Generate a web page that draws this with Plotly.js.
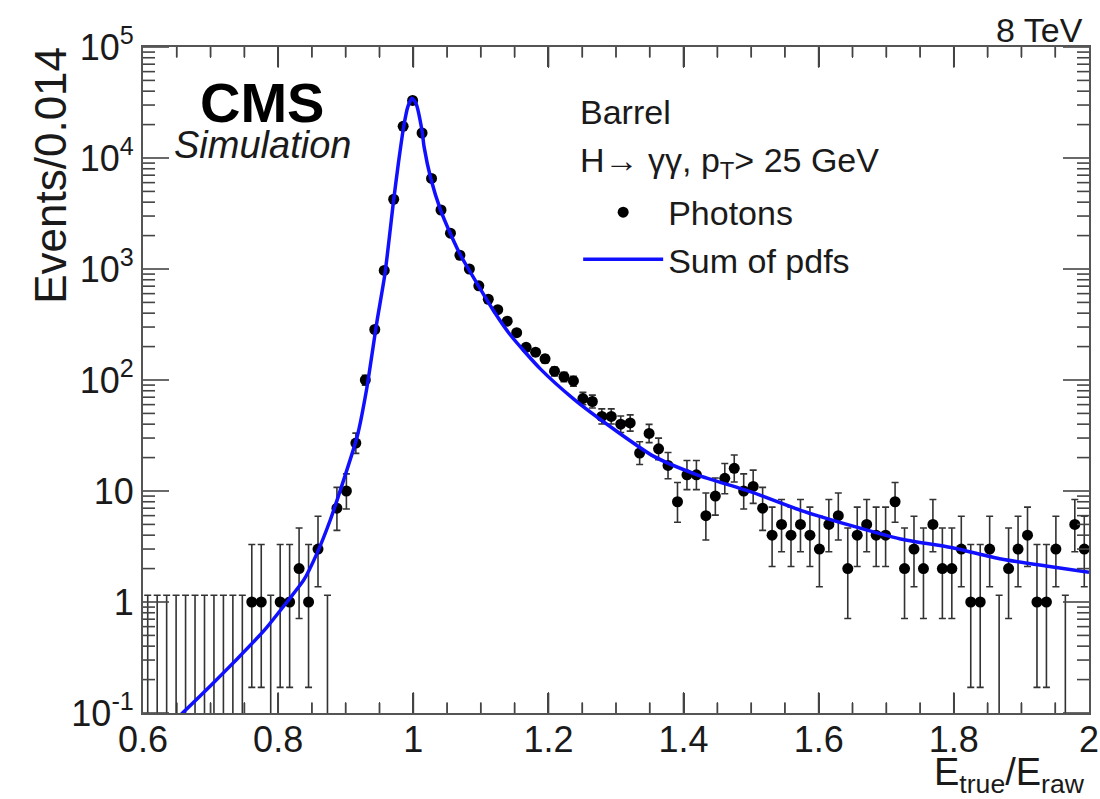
<!DOCTYPE html>
<html>
<head>
<meta charset="utf-8">
<script src="https://cdn.plot.ly/plotly-3.0.1.min.js"></script>
<style>html,body{margin:0;padding:0;background:#fff;}#chart{width:1100px;height:799px;}</style>
</head>
<body>
<div id="chart"></div>
<script>
// Bin centres of E_true/E_raw (bin width 0.014)
const binCenters = [0.607,0.621,0.635,0.649,0.663,0.677,0.691,0.705,0.719,0.733,
  0.747,0.761,0.775,0.789,0.803,0.817,0.831,0.845,0.859,0.873,
  0.887,0.901,0.915,0.929,0.943,0.957,0.971,0.985,0.999,1.013,
  1.027,1.041,1.055,1.069,1.083,1.097,1.111,1.125,1.139,1.153,
  1.167,1.181,1.195,1.209,1.223,1.237,1.251,1.265,1.279,1.293,
  1.307,1.321,1.335,1.349,1.363,1.377,1.391,1.405,1.419,1.433,
  1.447,1.461,1.475,1.489,1.503,1.517,1.531,1.545,1.559,1.573,
  1.587,1.601,1.615,1.629,1.643,1.657,1.671,1.685,1.699,1.713,
  1.727,1.741,1.755,1.769,1.783,1.797,1.811,1.825,1.839,1.853,
  1.867,1.881,1.895,1.909,1.923,1.937,1.951,1.965,1.979,1.993];

// Photon counts per bin
const photonCounts = [0,0,0,0,0,0,0,0,0,0,
  0,1,1,0,1,1,2,1,3,0,
  7,10,27,100,285,970,4250,19300,33000,16800,
  6550,3400,2100,1330,1000,705,534,430,339,267,
  197,178,155,120,107,98,68,64,47,47,
  40,41,22,33,24,17,8,14,14,6,
  9,13,16,10,11,7,4,5,4,5,
  4,3,5,6,2,4,5,4,4,8,
  2,3,2,5,2,2,3,1,1,3,
  0,2,3,4,1,1,3,0,5,3];

// Upper / lower error on each count
const errUp = [1.15,1.15,1.15,1.15,1.15,1.15,1.15,1.15,1.15,1.15,
  1.15,2.30,2.30,1.15,2.30,2.30,2.64,2.30,2.92,1.15,
  3.77,4.26,6.25,10.0,16.9,31.1,65.2,139,182,130,
  81,58.3,45.8,36.5,31.6,26.6,23.1,20.7,18.4,16.3,
  14.0,13.3,12.4,11.0,10.3,9.9,9.3,9.1,7.9,7.9,
  7.38,7.46,5.76,6.80,5.96,5.20,3.94,4.83,4.83,3.58,
  4.11,4.70,5.08,4.26,4.42,3.77,3.16,3.38,3.16,3.38,
  3.16,2.92,3.38,3.58,2.64,3.16,3.38,3.16,3.16,3.94,
  2.64,2.92,2.64,3.38,2.64,2.64,2.92,2.30,2.30,2.92,
  1.15,2.64,2.92,3.16,2.30,2.30,2.92,1.15,3.38,2.92];
const errDown = [0,0,0,0,0,0,0,0,0,0,
  0,0.83,0.83,0,0.83,0.83,1.29,0.83,1.63,0,
  2.58,3.11,5.16,10.0,16.9,31.1,65.2,139,182,130,
  81,58.3,45.8,36.5,31.6,26.6,23.1,20.7,18.4,16.3,
  14.0,13.3,12.4,11.0,10.3,9.9,8.2,8.0,6.8,6.8,
  6.30,6.38,4.66,5.72,4.86,4.09,2.77,3.70,3.70,2.38,
  2.94,3.56,3.96,3.11,3.27,2.58,1.91,2.16,1.91,2.16,
  1.91,1.63,2.16,2.38,1.29,1.91,2.16,1.91,1.91,2.77,
  1.29,1.63,1.29,2.16,1.29,1.29,1.63,0.83,0.83,1.63,
  0,1.29,1.63,1.91,0.83,0.83,1.63,0,2.16,1.63];

// Sum of pdfs (fit curve)
const pdfX = [0.650,0.660,0.700,0.740,0.780,0.813,0.838,0.857,0.877,0.897,0.917,0.931,0.946,0.958,0.971,0.978,0.986,0.992,0.998,1.004,1.013,1.016,1.026,1.040,1.055,1.070,1.098,1.120,1.144,1.188,1.238,1.297,1.356,1.420,1.500,1.573,1.647,1.721,1.796,1.870,1.944,2.000];
const pdfY = [0.089,0.102,0.176,0.31,0.56,1.0,1.58,2.7,5.45,12.6,31,83,330,900,4200,9000,19500,29000,34500,31000,17500,12600,6500,3450,2080,1330,680,410,253,126,67,36,20.5,14,9.8,6.7,4.9,3.7,3.1,2.44,2.08,1.85];

const yTickVals = [0.1,1,10,100,1000,10000,100000];
const yTickText = ['10<sup>-1</sup>','1','10','10<sup>2</sup>','10<sup>3</sup>','10<sup>4</sup>','10<sup>5</sup>'];

// split into filled and empty bins
const fx=[],fy=[],fu=[],fd=[],zx=[],zy=[],zd=[];
photonCounts.forEach((c,i)=>{
  if(c>0){fx.push(binCenters[i]);fy.push(c);fu.push(errUp[i]);fd.push(errDown[i]);}
  else{zx.push(binCenters[i]);zy.push(c+errUp[i]);zd.push((c+errUp[i])*0.9999);}
});

// ROOT-style inside tick marks (axis decoration)
const X0=0.6, X1=2.0, YLO=-1, YHI=5;
const PXX=946/(X1-X0), PXY=666/(YHI-YLO), TC='#444';
const shapes=[];
function seg(x0,x1,y0,y1){
  shapes.push({type:'line',xref:'x',yref:'y',x0:x0,x1:x1,y0:y0,y1:y1,layer:'above',line:{color:TC,width:1.6}});
}
for(let d=YLO; d<=YHI; d++){
  for(let k=1;k<10;k++){
    if(d===YHI && k>1) break;
    const val=k*Math.pow(10,d);
    const len=(k===1?26:12)/PXX;
    seg(X0,X0+len,val,val);
    seg(X1,X1-len,val,val);
  }
}
// x-axis tick marks as error bars of helper traces
const tickX=[], botY=[], botM=[], topY=[], topP=[];
for(let k=1;k<28;k++){
  const v=X0+0.05*k;
  const lenDec=(k%4===0?20:10)/PXY;
  const yb=Math.pow(10,YLO+lenDec), yt=Math.pow(10,YHI-lenDec);
  tickX.push(v); botY.push(yb); botM.push(yb*0.9); topY.push(yt); topP.push(yt*2);
}

const FONT='Liberation Sans, Arial, sans-serif';
const TXT='#1a1a1a';

const traces = [
  {x:tickX,y:botY,type:'scatter',mode:'markers',showlegend:false,hoverinfo:'skip',
   marker:{size:2,color:'rgba(255,255,255,0)'},
   error_y:{type:'data',symmetric:false,array:tickX.map(()=>0),arrayminus:botM,color:'#444',thickness:1.8,width:0.5}},
  {x:tickX,y:topY,type:'scatter',mode:'markers',showlegend:false,hoverinfo:'skip',
   marker:{size:2,color:'rgba(255,255,255,0)'},
   error_y:{type:'data',symmetric:false,array:topP,arrayminus:tickX.map(()=>0),color:'#444',thickness:1.8,width:0.5}},
  {x:zx,y:zy,type:'scatter',mode:'markers',showlegend:false,hoverinfo:'skip',
   marker:{size:1,color:'rgba(0,0,0,0)'},
   error_y:{type:'data',symmetric:false,array:zx.map(()=>0),arrayminus:zd,color:'#333',thickness:1.6,width:3.5}},
  {x:fx,y:fy,type:'scatter',mode:'markers',name:'Photons',
   marker:{size:11,color:'#000'},
   error_y:{type:'data',symmetric:false,array:fu,arrayminus:fd,color:'#333',thickness:1.6,width:3.5}},
  {x:pdfX,y:pdfY,type:'scatter',mode:'lines',name:'Sum of pdfs',
   line:{color:'#1010ff',width:3.5,shape:'spline',smoothing:0.6}}
];

const layout = {
  width:1100,height:799,
  margin:{l:143,r:11,t:47,b:86},
  paper_bgcolor:'#fff',plot_bgcolor:'#fff',
  font:{family:FONT,color:TXT,size:36},
  showlegend:true,
  legend:{x:0.46,xanchor:'left',y:0.795,yanchor:'top',bgcolor:'rgba(0,0,0,0)',
          font:{size:34,family:FONT,color:TXT},itemwidth:80,tracegroupgap:0},
  xaxis:{range:[X0,X1],tickmode:'linear',tick0:0.6,dtick:0.2,
         ticks:'inside',ticklen:20,tickwidth:2,tickcolor:'#444',
         ticklabelstandoff:-6,
         showline:true,linecolor:'#555',linewidth:2,mirror:'ticks',
         showgrid:false,zeroline:false,
         tickfont:{size:36,family:FONT,color:TXT}},
  yaxis:{type:'log',range:[YLO,YHI],tickmode:'array',tickvals:yTickVals,ticktext:yTickText,ticks:'',
         showline:true,linecolor:'#555',linewidth:2,mirror:true,
         showgrid:false,zeroline:false,
         tickfont:{size:36,family:FONT,color:TXT}},
  shapes:shapes,
  annotations:[
    {text:'8 TeV',xref:'paper',yref:'paper',x:0.9958,y:1.0255,xanchor:'right',yanchor:'middle',showarrow:false,font:{size:34,family:FONT,color:TXT}},
    {text:'<b>CMS</b>',xref:'paper',yref:'paper',x:0.1258,y:0.916,xanchor:'center',yanchor:'middle',showarrow:false,font:{size:56,family:FONT,color:'#000'}},
    {text:'<i>Simulation</i>',xref:'paper',yref:'paper',x:0.1258,y:0.853,xanchor:'center',yanchor:'middle',showarrow:false,font:{size:38,family:FONT,color:TXT}},
    {text:'Barrel',xref:'paper',yref:'paper',x:0.46,y:0.902,xanchor:'left',yanchor:'middle',showarrow:false,font:{size:34,family:FONT,color:TXT}},
    {text:'H→ γγ, p<sub>T</sub>> 25 GeV',xref:'paper',yref:'paper',x:0.46,y:0.826,xanchor:'left',yanchor:'middle',showarrow:false,font:{size:34,family:FONT,color:TXT}},
    {text:'Events/0.014',xref:'paper',yref:'paper',x:-0.098,y:1.003,xanchor:'center',yanchor:'top',textangle:-90,showarrow:false,font:{size:44,family:FONT,color:TXT}},
    {text:'E<sub>true</sub>/E<sub>raw</sub>',xref:'paper',yref:'paper',x:0.998,y:-0.093,xanchor:'right',yanchor:'middle',showarrow:false,font:{size:38,family:FONT,color:TXT}}
  ]
};

Plotly.newPlot('chart',traces,layout,{displayModeBar:false,staticPlot:true});
</script>
</body>
</html>
